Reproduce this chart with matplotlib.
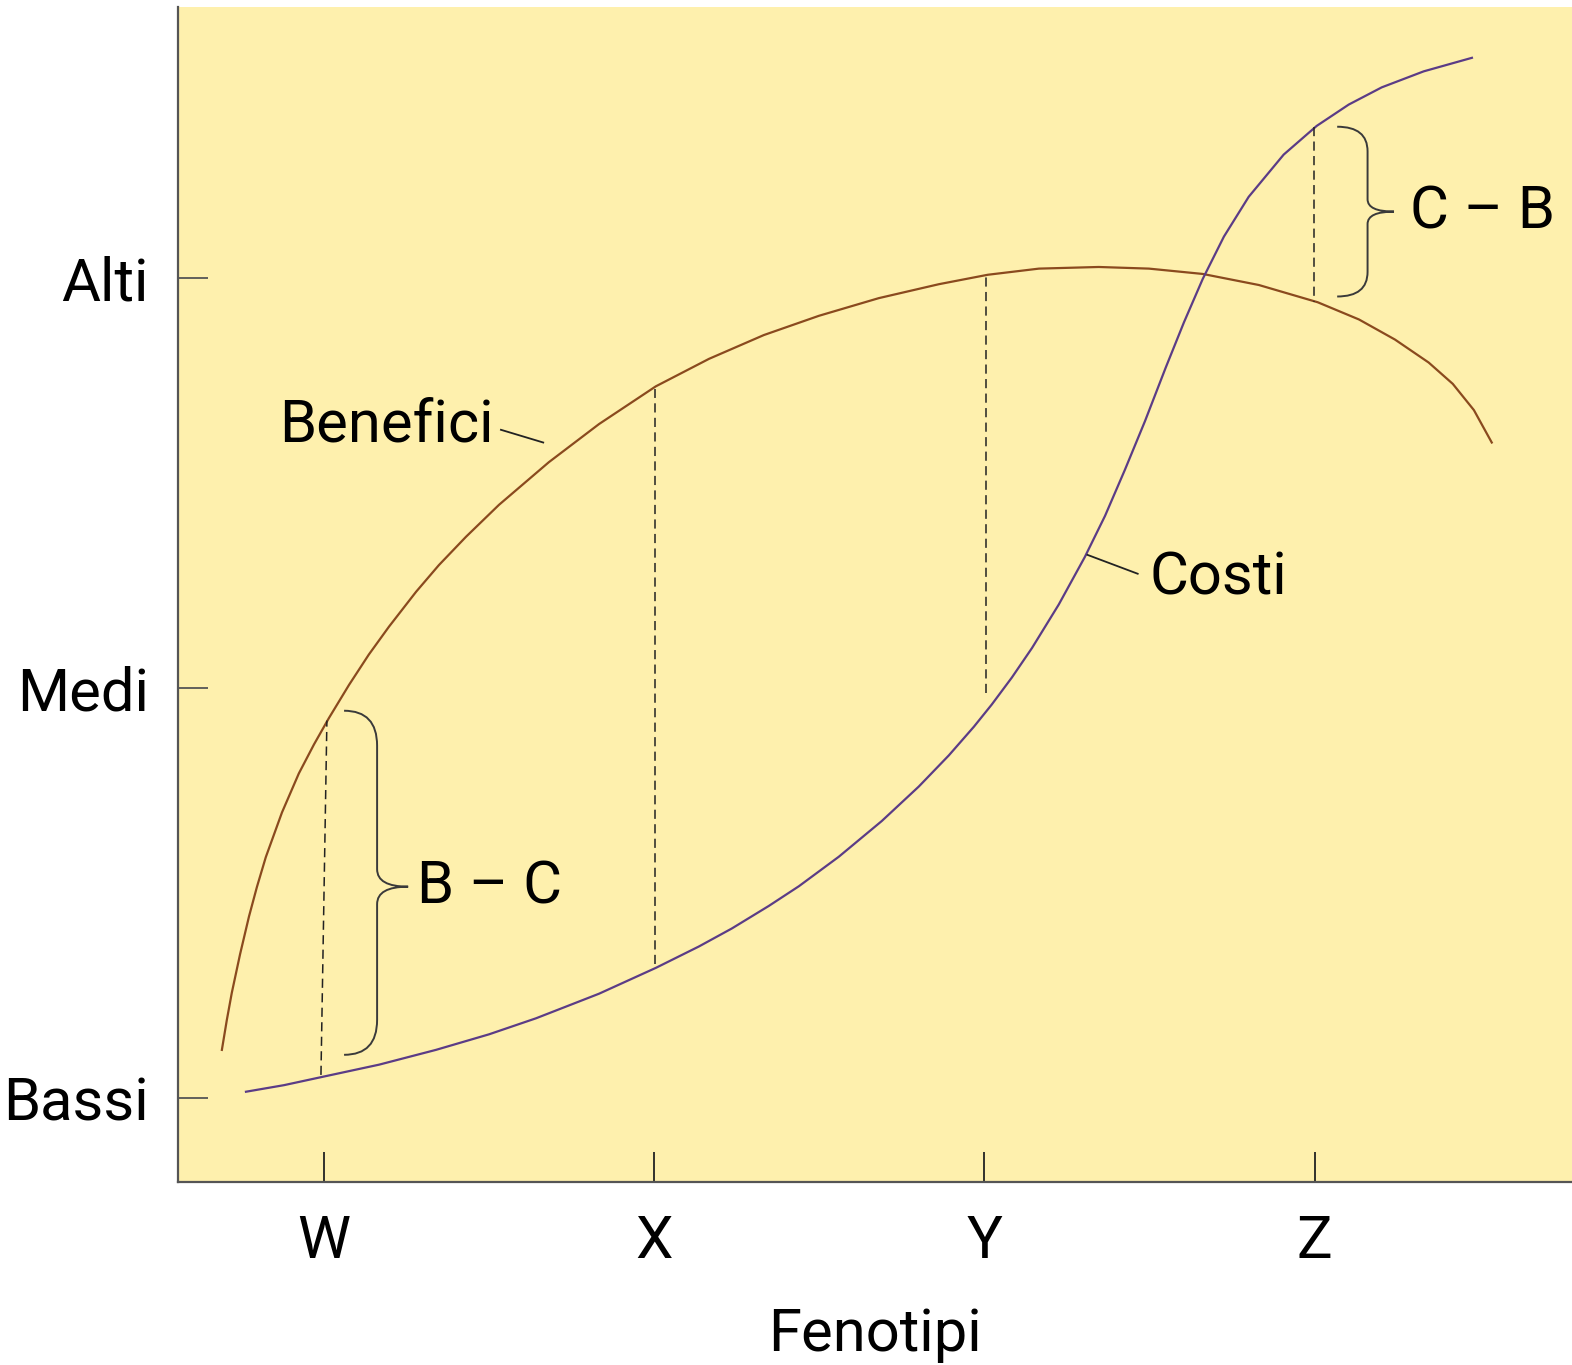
import matplotlib
matplotlib.use("Agg")
import matplotlib.pyplot as plt
from matplotlib.path import Path
from matplotlib.patches import PathPatch

plt.rcParams['font.family'] = ['Roboto', 'DejaVu Sans']

# phenotype axis (W..Z -> 1..4), level axis (Bassi=0, Medi=1, Alti=2)
pheno_labels = ["W", "X", "Y", "Z"]
pheno_pos = [1, 2, 3, 4]
level_labels = ["Bassi", "Medi", "Alti"]
level_pos = [0, 1, 2]

# Benefici curve
benefit_x = [0.691, 0.706, 0.721, 0.746, 0.773, 0.797, 0.824, 0.873, 0.924, 0.970,
             1.015, 1.076, 1.136, 1.197, 1.279, 1.348, 1.430, 1.530, 1.681, 1.833,
             2.005, 2.166, 2.332, 2.499, 2.680, 2.862, 3.010, 3.165, 3.346, 3.498,
             3.661, 3.831, 4.009, 4.134, 4.243, 4.345, 4.418, 4.482, 4.536]
benefit_y = [0.117, 0.190, 0.256, 0.350, 0.442, 0.514, 0.587, 0.696, 0.791, 0.862,
             0.926, 1.007, 1.081, 1.149, 1.234, 1.299, 1.368, 1.446, 1.550, 1.643,
             1.735, 1.802, 1.860, 1.907, 1.950, 1.984, 2.007, 2.022, 2.026, 2.022,
             2.009, 1.982, 1.940, 1.898, 1.849, 1.793, 1.741, 1.677, 1.598]

# Costi curve
cost_x = [0.764, 0.879, 0.994, 1.167, 1.339, 1.500, 1.642, 1.833, 2.005, 2.135,
          2.235, 2.347, 2.438, 2.559, 2.689, 2.801, 2.892, 2.968, 3.022, 3.083,
          3.144, 3.225, 3.304, 3.365, 3.425, 3.486, 3.549, 3.604, 3.661, 3.725,
          3.800, 3.906, 4.006, 4.103, 4.203, 4.330, 4.476]
cost_y = [0.015, 0.031, 0.051, 0.081, 0.117, 0.155, 0.194, 0.254, 0.317, 0.369,
          0.413, 0.468, 0.516, 0.588, 0.675, 0.759, 0.835, 0.905, 0.959, 1.025,
          1.097, 1.203, 1.319, 1.419, 1.531, 1.650, 1.781, 1.891, 1.997, 2.100,
          2.197, 2.300, 2.370, 2.422, 2.464, 2.503, 2.536]

# dashed drops at each phenotype: x at bottom / top, cost and benefit levels
drop_xb = [0.991, 2.002, 3.004, 3.997]
drop_xt = [1.009, 2.002, 3.004, 3.997]
drop_cost = [0.056, 0.327, 0.988, 2.368]
drop_benefit = [0.920, 1.728, 2.004, 1.940]

BG = "#FEF0AD"
BROWN = "#8A4A1E"
PURPLE = "#5B3C86"
GREY = "#555555"
FS = 43

fig = plt.figure(figsize=(15.72, 13.65), dpi=100)
ax = fig.add_axes([0.1132, 0.1341, 0.8868, 0.8608])
ax.set_facecolor(BG)
ax.set_xlim(0.558, 4.779)
ax.set_ylim(-0.205, 2.66)

ax.plot(benefit_x, benefit_y, color=BROWN, lw=1.6, solid_joinstyle="round")
ax.plot(cost_x, cost_y, color=PURPLE, lw=1.6, solid_joinstyle="round")

for xb, xt, c, b in zip(drop_xb, drop_xt, drop_cost, drop_benefit):
    ax.plot([xb, xt], [c, b], color="#222222", lw=1.1, dashes=(6, 3.5))


def brace(x0, xm, xt, y_top, y_bot, y_mid, r):
    # curly brace opening left, tip pointing right at (xt, y_mid)
    verts = [(x0, y_top), (xm, y_top), (xm, y_top - r), (xm, y_top - r),
             (xm, y_mid + r * 0.5), (xm, y_mid), (xt, y_mid),
             (xm, y_mid), (xm, y_mid - r * 0.5),
             (xm, y_bot + r), (xm, y_bot + r), (xm, y_bot), (x0, y_bot)]
    codes = [Path.MOVETO, Path.CURVE3, Path.CURVE3, Path.LINETO,
             Path.LINETO, Path.CURVE3, Path.CURVE3,
             Path.CURVE3, Path.CURVE3,
             Path.LINETO, Path.LINETO, Path.CURVE3, Path.CURVE3]
    ax.add_patch(PathPatch(Path(verts, codes), fill=False, ec="#3a3a3a", lw=1.4))


brace(1.061, 1.161, 1.255, 0.944, 0.105, 0.515, 0.085)
brace(4.068, 4.160, 4.240, 2.368, 1.954, 2.161, 0.06)

ax.text(1.282, 0.515, "B – C", fontsize=FS, va="center", ha="left")
ax.text(4.288, 2.161, "C – B", fontsize=FS, va="center", ha="left")
ax.text(0.864, 1.641, "Benefici", fontsize=FS, va="center", ha="left")
ax.text(3.50, 1.268, "Costi", fontsize=FS, va="center", ha="left")
ax.plot([1.536, 1.664], [1.629, 1.598], color="#222222", lw=1.3)
ax.plot([3.312, 3.464], [1.324, 1.278], color="#222222", lw=1.3)

ax.set_xticks(pheno_pos, pheno_labels, fontsize=FS)
ax.set_yticks(level_pos, level_labels, fontsize=FS)
ax.tick_params(axis="y", direction="in", length=21.5, width=1.3, color=GREY, pad=21)
ax.tick_params(axis="x", direction="in", length=21.5, width=1.3, color="#222222", pad=22)
ax.set_xlabel("Fenotipi", fontsize=FS, labelpad=26)

for s in ["top", "right"]:
    ax.spines[s].set_visible(False)
for s in ["left", "bottom"]:
    ax.spines[s].set_color(GREY)
    ax.spines[s].set_linewidth(1.6)

fig.savefig("out.png", dpi=100, facecolor="white")
